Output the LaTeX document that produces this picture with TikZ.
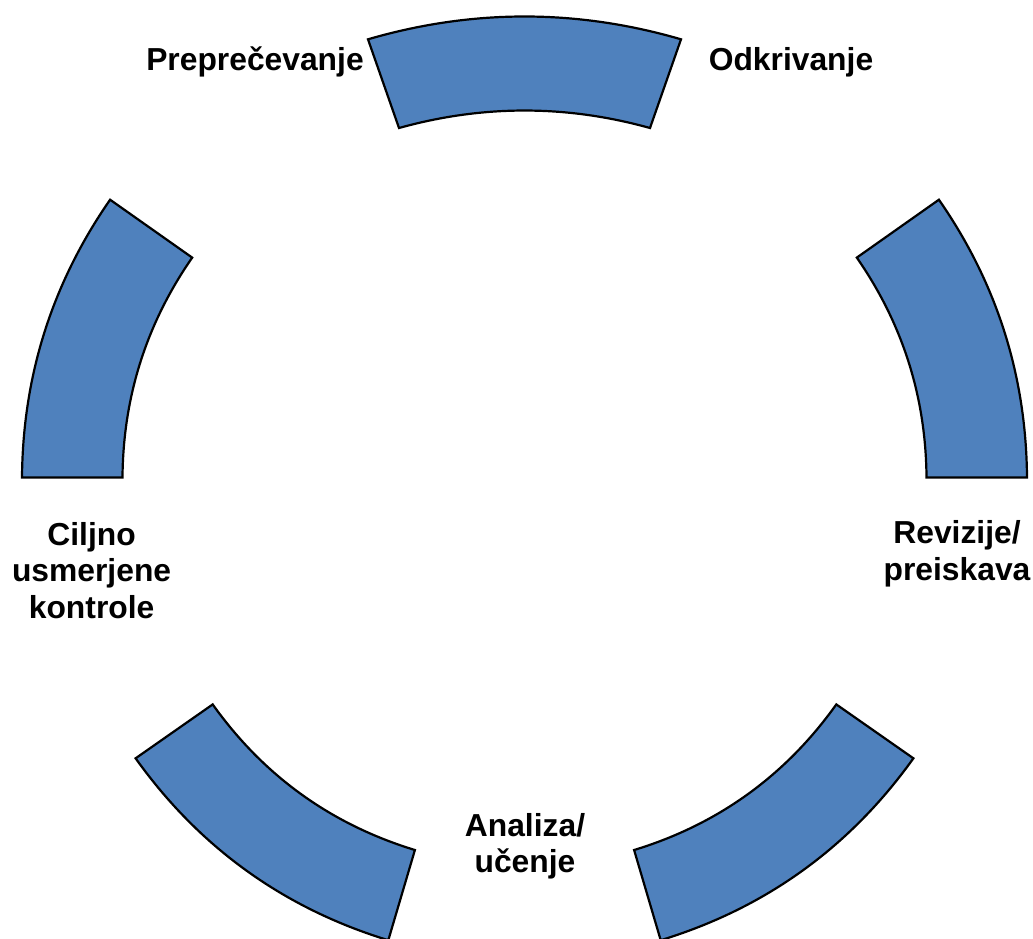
\documentclass[tikz,border=0pt]{standalone}
\usepackage{fontspec}
\setmainfont{Liberation Sans}
\definecolor{segblue}{HTML}{4F81BD}
\begin{document}
\begin{tikzpicture}[x=1pt,y=-1pt,
  seg/.style={fill=segblue, draw=black, line width=2.2pt, line join=miter},
  lbl/.style={font=\fontsize{31.8}{36.5}\selectfont\bfseries, align=center, inner sep=0pt, anchor=base}]
\useasboundingbox (0,0) rectangle (1033,938);
\clip (0,0) rectangle (1033,938);
% top segment
\draw[seg] (368,39.3) .. controls (472.3,8.9) and (576.7,8.9) .. (681,39.3)
  -- (650,128) .. controls (566.3,104.7) and (482.7,104.7) .. (399,128) -- cycle;
% left segment
\draw[seg] (110.1,199.7) .. controls (52.1,283.2) and (22.8,375.8) .. (22,477.5)
  -- (122.5,477.5) .. controls (123.1,396.9) and (146.4,323.6) .. (192.2,257.6) -- cycle;
% right segment
\draw[seg] (938.9,199.7) .. controls (996.9,283.2) and (1026.2,375.8) .. (1027,477.5)
  -- (926.5,477.5) .. controls (925.9,396.9) and (902.6,323.6) .. (856.8,257.6) -- cycle;
% bottom-left segment
\draw[seg] (135.6,758.3) .. controls (199.4,847.5) and (283.6,908.2) .. (388.3,940.2)
  -- (414.9,850.0) .. controls (331.1,824.4) and (263.7,775.9) .. (212.7,704.4) -- cycle;
% bottom-right segment
\draw[seg] (913.4,758.3) .. controls (849.6,847.5) and (765.4,908.2) .. (660.7,940.2)
  -- (634.1,850.0) .. controls (717.9,824.4) and (785.3,775.9) .. (836.3,704.4) -- cycle;
% labels (base = baseline of the last line)
\node[lbl] (prep) at (255,70) {Preprečevanje};
\node[lbl] (odkr) at (791,70) {Odkrivanje};
\node[lbl] (rev) at (957,580) {Revizije/\\preiskava};
\node[lbl] (anal) at (525,872.7) {Analiza/\\učenje};
\node[lbl] (cilj) at (91.6,618) {Ciljno\\usmerjene\\kontrole};
\end{tikzpicture}
\end{document}
